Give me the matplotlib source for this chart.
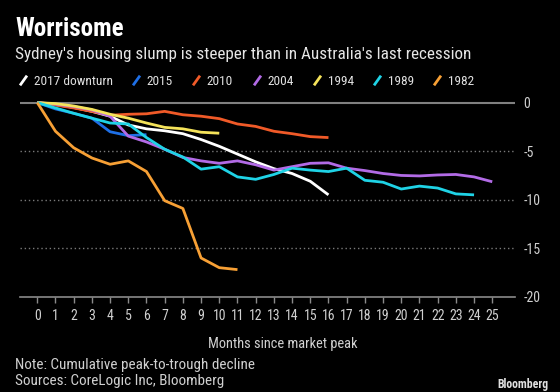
import numpy as np
import matplotlib
matplotlib.use("Agg")
import matplotlib.pyplot as plt
from matplotlib import font_manager
from matplotlib.lines import Line2D

# cumulative peak-to-trough decline, % by months since market peak
labels = ["2017 downturn", "2015", "2010", "2004", "1994", "1989", "1982"]
colors = ["#ffffff", "#1e6fe6", "#f05a28", "#b26be6", "#f5e35a", "#1fd3e6", "#f7a035"]

s2017 = [0, -0.2, -0.5, -0.9, -1.4, -2.3, -2.7, -2.9, -3.2, -3.8, -4.5, -5.3,
         -6.1, -6.8, -7.3, -8.1, -9.5]
s2015 = [0, -0.65, -1.1, -1.6, -3.0, -3.4, -3.3]
s2010 = [0, -0.25, -0.55, -0.9, -1.3, -1.2, -1.15, -0.9, -1.25, -1.4, -1.65, -2.2,
         -2.45, -2.95, -3.2, -3.5, -3.6]
s2004 = [0, -0.15, -0.4, -0.75, -1.4, -3.45, -4.05, -4.8, -5.65, -6.0, -6.25, -6.0,
         -6.4, -6.95, -6.6, -6.25, -6.2, -6.75, -7.0, -7.3, -7.5, -7.55, -7.45, -7.4,
         -7.65, -8.15]
s1994 = [0, -0.1, -0.35, -0.7, -1.2, -1.6, -2.1, -2.55, -2.7, -3.05, -3.15]
s1989 = [0, -0.55, -1.1, -1.6, -2.1, -2.2, -3.6, -4.8, -5.6, -6.85, -6.6, -7.65,
         -7.9, -7.4, -6.75, -6.95, -7.1, -6.75, -8.0, -8.2, -8.9, -8.6, -8.8, -9.4,
         -9.5]
s1982 = [0, -2.95, -4.65, -5.7, -6.35, -6.0, -7.1, -10.1, -10.9, -16.0, -17.0, -17.2]
series = [s2017, s2015, s2010, s2004, s1994, s1989, s1982]

month_ticks = list(range(0, 26))
y_ticks = [0, -5, -10, -15, -20]

names = {f.name for f in font_manager.fontManager.ttflist}
base = "DejaVu Sans"
for cand in ["Liberation Sans Narrow", "DejaVu Sans Condensed", "Roboto Condensed"]:
    if cand in names:
        base = cand
        break
plt.rcParams["font.family"] = [base, "DejaVu Sans"]

W, H = 560, 392
fig = plt.figure(figsize=(W / 100, H / 100), dpi=100, facecolor="black")


def fx(px):
    return px / W


def fy(py):
    return 1 - py / H


ax = fig.add_axes([fx(20), fy(296.8), fx(515) - fx(20), fy(96.8) - fy(296.8)])
ax.set_facecolor("black")

for vals, c in zip(series, colors):
    ax.plot(range(len(vals)), vals, color=c, lw=2, solid_joinstyle="round",
            solid_capstyle="butt", zorder=3)

ax.set_xlim(-0.95, 26.25)
ax.set_ylim(-20, 0.6)
ax.set_xticks(month_ticks)
ax.set_xticklabels([str(m) for m in month_ticks])
ax.set_yticks(y_ticks)
ax.set_yticklabels([str(v) for v in y_ticks])
ax.yaxis.tick_right()

for v in y_ticks[1:-1]:
    ax.axhline(v, color="#7a7a7a", lw=1, linestyle=(0, (1, 2)), zorder=1)
ax.axhline(0, color="#808080", lw=1.5, zorder=1)

for side in ["top", "left", "right"]:
    ax.spines[side].set_visible(False)
ax.spines["bottom"].set_color("#8a8a8a")
ax.spines["bottom"].set_linewidth(1.2)

ax.tick_params(axis="x", colors="#8a8a8a", length=4, width=1, labelcolor="#d0d0d0",
               labelsize=10, pad=5)
ax.tick_params(axis="y", length=0, labelcolor="#d0d0d0", labelsize=10, pad=6)

# legend with slash markers
handles = [Line2D([], [], linestyle="none", marker=[(-1, -1.4), (1, 1.4)], markersize=7,
                  markeredgewidth=2, color=c) for c in colors]
leg = fig.legend(handles, labels, ncol=7, loc="lower left",
                 bbox_to_anchor=(fx(19), fy(88)), frameon=False, handlelength=0.6,
                 handletextpad=0.5, columnspacing=1.45, fontsize=9.6, borderpad=0,
                 borderaxespad=0)
for t in leg.get_texts():
    t.set_color("#e0e0e0")

fig.text(fx(15), fy(36), "Worrisome", color="white", fontsize=18, fontweight="bold",
         va="baseline", ha="left")
fig.text(fx(15), fy(59), "Sydney's housing slump is steeper than in Australia's last recession",
         color="#e6e6e6", fontsize=12.3, va="baseline", ha="left")
fig.text(fx(283), fy(348), "Months since market peak", color="#d0d0d0", fontsize=10.4,
         va="baseline", ha="center")
fig.text(fx(15), fy(369), "Note: Cumulative peak-to-trough decline", color="#d0d0d0",
         fontsize=10.9, va="baseline", ha="left")
fig.text(fx(15), fy(385), "Sources: CoreLogic Inc, Bloomberg", color="#d0d0d0",
         fontsize=10.9, va="baseline", ha="left")
fig.text(fx(548), fy(388), "Bloomberg", color="#e0e0e0", fontsize=8.5, fontweight="bold",
         va="baseline", ha="right")

fig.savefig("out.png", dpi=100, facecolor="black")
